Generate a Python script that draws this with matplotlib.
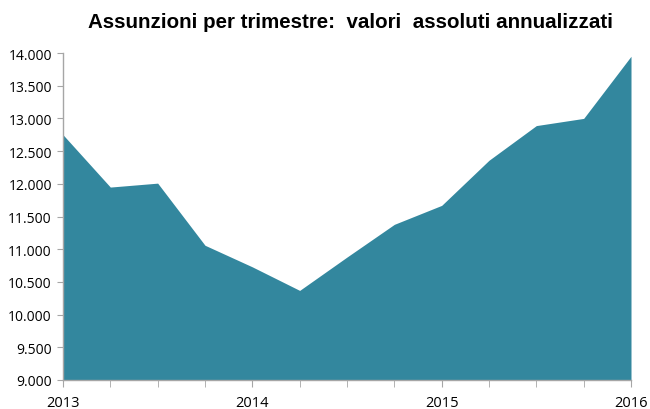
import numpy as np
import matplotlib.pyplot as plt
from matplotlib.ticker import FuncFormatter, MultipleLocator

# trimestri 2013 Q1 .. 2016 Q1
trimestri = [2013 + i * 0.25 for i in range(13)]
assunzioni = [12750, 11950, 12010, 11060, 10730, 10370, 10880,
              11380, 11670, 12360, 12890, 13000, 13950]
anni = [2013, 2014, 2015, 2016]

fig = plt.figure(figsize=(6.5, 4.1), dpi=100)
ax = fig.add_axes([63 / 650, 29 / 410, 568 / 650, 327 / 410])

ax.fill_between(trimestri, 9000, assunzioni, color='#33879e', linewidth=0)

ax.set_xlim(2013, 2016)
ax.set_ylim(9000, 14000)
ax.set_yticks(np.arange(9000, 14001, 500))
ax.yaxis.set_major_formatter(FuncFormatter(lambda v, p: '{:,.0f}'.format(v).replace(',', '.')))
ax.set_xticks(anni)
ax.set_xticklabels([str(a) for a in anni])
ax.xaxis.set_minor_locator(MultipleLocator(0.25))

for s in ['top', 'right']:
    ax.spines[s].set_visible(False)
for s in ['left', 'bottom']:
    ax.spines[s].set_color('#a6a6a6')
    ax.spines[s].set_linewidth(1)

ax.tick_params(axis='y', length=4, color='#a6a6a6', labelsize=10, pad=4)
ax.tick_params(axis='x', which='both', length=5, color='#a6a6a6', labelsize=10.5, pad=6)
for lab in ax.get_xticklabels() + ax.get_yticklabels():
    lab.set_family('Open Sans')

fig.text(350 / 650, 1 - 22 / 410, 'Assunzioni per trimestre:  valori  assoluti annualizzati',
         ha='center', va='center', fontsize=14.8, fontweight='bold', family='Liberation Sans')

fig.savefig('out.png', dpi=100)
